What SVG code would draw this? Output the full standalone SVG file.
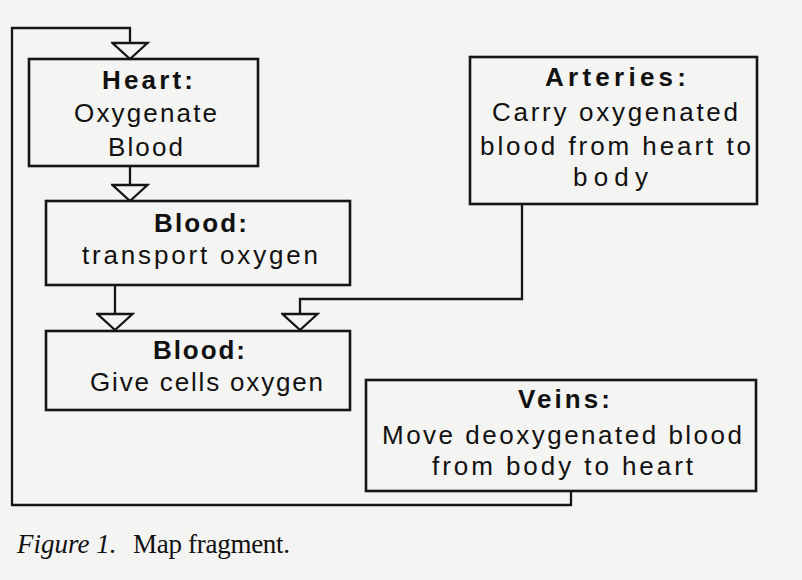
<svg xmlns="http://www.w3.org/2000/svg" width="802" height="580" viewBox="0 0 802 580">
  <style>
    .box { fill: none; stroke: #151515; stroke-width: 2.6; }
    .conn { fill: none; stroke: #151515; stroke-width: 2.3; }
    .t { font-family: "Liberation Sans", Arial, sans-serif; font-size: 26px; fill: #111; }
    .b { font-weight: bold; }
    .cap { font-family: "Liberation Serif", "Times New Roman", serif; font-size: 27px; fill: #111; }
  </style>
  <defs>
    <marker id="tri" markerUnits="userSpaceOnUse" viewBox="-2 -2 20 39" markerWidth="20" markerHeight="39" refX="16" refY="17.5" orient="auto">
      <path d="M0,0 L16,17.5 L0,35 Z" fill="#f4f4f2" stroke="#151515" stroke-width="2.3" stroke-linejoin="miter"/>
    </marker>
  </defs>
  <rect x="0" y="0" width="802" height="580" fill="#f4f4f2"/>

  <g id="connectors">
    <path class="conn" d="M571,491 V505 H12 V28 H130 V59" marker-end="url(#tri)"/>
    <path class="conn" d="M130,166 V201" marker-end="url(#tri)"/>
    <path class="conn" d="M115,285 V330" marker-end="url(#tri)"/>
    <path class="conn" d="M522,204 V299 H300 V330" marker-end="url(#tri)"/>
  </g>

  <g id="heart">
    <rect class="box" x="29" y="59" width="229" height="107"/>
    <text class="t b" x="102" y="89" textLength="91" lengthAdjust="spacing">Heart:</text>
    <text class="t" x="74" y="122" textLength="143" lengthAdjust="spacing">Oxygenate</text>
    <text class="t" x="108" y="156" textLength="75" lengthAdjust="spacing">Blood</text>
  </g>

  <g id="blood-transport">
    <rect class="box" x="46" y="201" width="304" height="84"/>
    <text class="t b" x="154" y="232" textLength="93" lengthAdjust="spacing">Blood:</text>
    <text class="t" x="82" y="264" textLength="236" lengthAdjust="spacing">transport oxygen</text>
  </g>

  <g id="blood-give">
    <rect class="box" x="46" y="331" width="304" height="79"/>
    <text class="t b" x="153" y="359" textLength="92" lengthAdjust="spacing">Blood:</text>
    <text class="t" x="90" y="391" textLength="233" lengthAdjust="spacing">Give cells oxygen</text>
  </g>

  <g id="arteries">
    <rect class="box" x="470" y="57" width="287" height="147"/>
    <text class="t b" x="545" y="86" textLength="141" lengthAdjust="spacing">Arteries:</text>
    <text class="t" x="492" y="121" textLength="246" lengthAdjust="spacing">Carry oxygenated</text>
    <text class="t" x="480" y="155" textLength="271" lengthAdjust="spacing">blood from heart to</text>
    <text class="t" x="573" y="186" textLength="75" lengthAdjust="spacing">body</text>
  </g>

  <g id="veins">
    <rect class="box" x="366" y="380" width="390" height="111"/>
    <text class="t b" x="518" y="408" textLength="92" lengthAdjust="spacing">Veins:</text>
    <text class="t" x="382" y="444" textLength="360" lengthAdjust="spacing">Move deoxygenated blood</text>
    <text class="t" x="432" y="475" textLength="261" lengthAdjust="spacing">from body to heart</text>
  </g>

  <g id="caption">
    <text class="cap" x="17" y="553" font-style="italic">Figure 1.</text>
    <text class="cap" x="133" y="553" textLength="157" lengthAdjust="spacing">Map fragment.</text>
  </g>
</svg>
